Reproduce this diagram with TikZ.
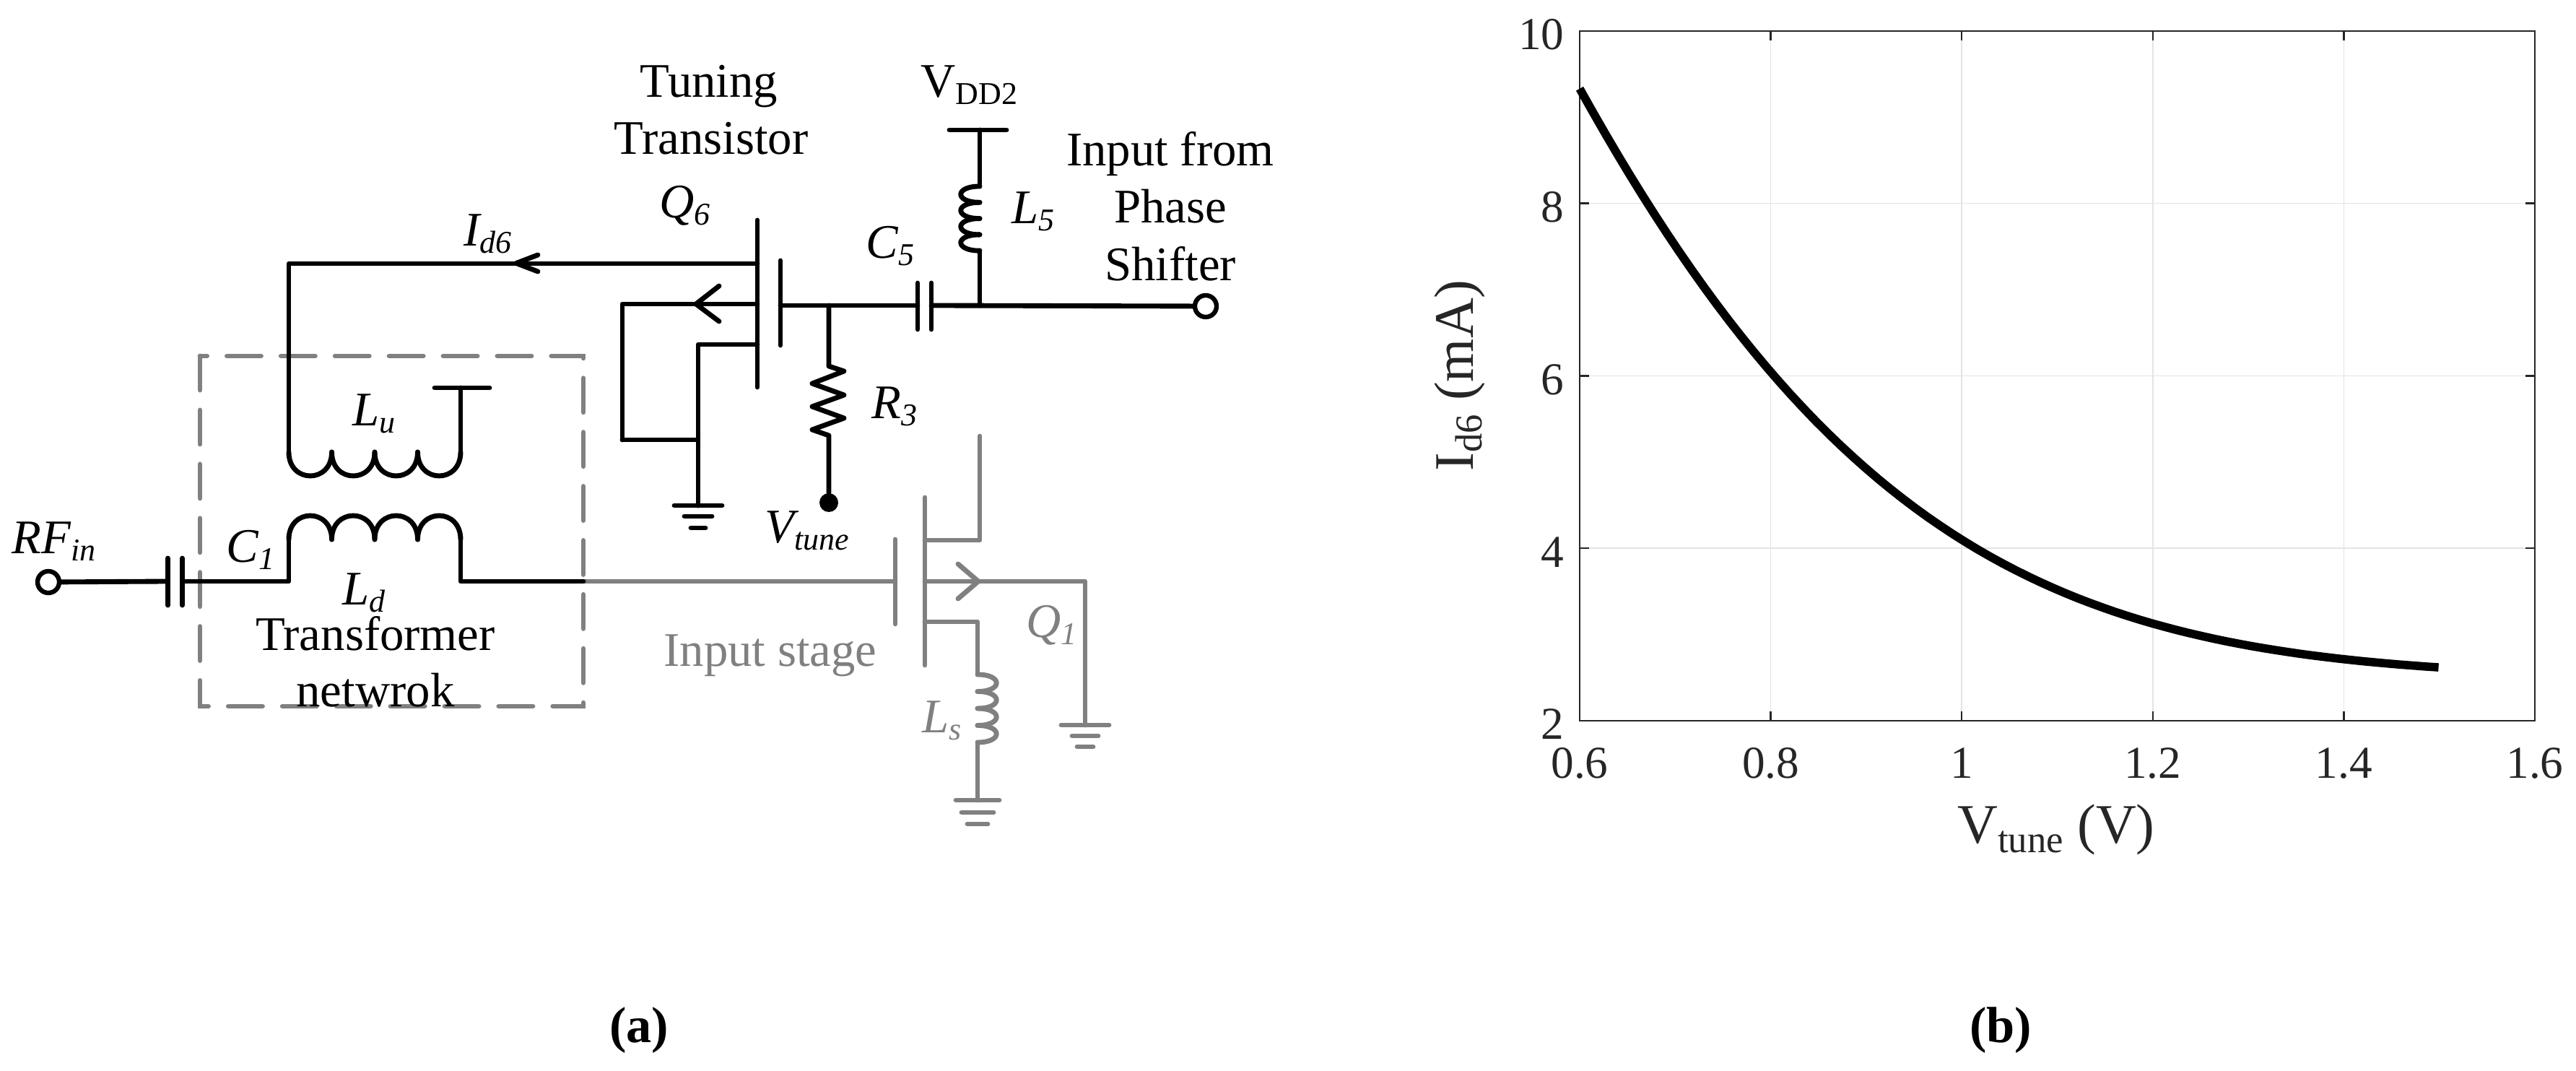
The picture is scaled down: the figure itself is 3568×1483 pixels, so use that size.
\documentclass[tikz,border=0pt]{standalone}
\usepackage{fontspec}
\setmainfont{Liberation Serif}
\usetikzlibrary{calc,arrows}
\definecolor{stagegray}{HTML}{808080}
\definecolor{axisdark}{HTML}{262626}
\definecolor{gridlight}{HTML}{E4E4E4}
\newcommand{\symb}[2]{\textit{#1\raisebox{-2.8pt}{\fontsize{12.5}{14}\selectfont #2}}}
\tikzset{
    >=stealth',
    wire/.style={draw, line width=1.95pt, line cap=round, line join=round},
    grayline/.style={wire, stagegray},
    boxline/.style={draw=stagegray, line width=1.95pt, line cap=round, dash pattern=on 13.4pt off 7.9pt},
    terminal/.style={circle, draw, fill=white, line width=1.8pt, minimum size=30*0.2845pt, inner sep=0pt},
    dotnode/.style={circle, fill, minimum size=26*0.2845pt, inner sep=0pt},
    lbl/.style={font={\fontsize{19}{22}\selectfont}, inner sep=0pt},
    tick/.style={axisdark, font={\fontsize{18}{20}\selectfont}, inner sep=0pt},
    axislabel/.style={axisdark, font={\fontsize{22}{26}\selectfont}, inner sep=0pt},
    axisline/.style={draw=axisdark, line width=0.7pt},
    gridline/.style={draw=gridlight, line width=0.45pt},
    curve/.style={draw=black, line width=3.3pt},
    caption/.style={font={\bfseries\fontsize{20}{24}\selectfont}, inner sep=0pt},
}
\begin{document}
\begin{tikzpicture}[x=0.01cm, y=-0.01cm]
\useasboundingbox (0,0) rectangle (3568,1483);

% junctions
\coordinate (c1-l) at (232.5,805);
\coordinate (c1-r) at (252.5,805);
\coordinate (ld-l) at (400,747);
\coordinate (ld-r) at (638,747);
\coordinate (lu-r) at (638,626);
\coordinate (lu-t) at (638,537);
\coordinate (q6-d) at (1049,365);
\coordinate (q6-b) at (1049,421);
\coordinate (q6-s) at (1049,477);
\coordinate (q6-g) at (1081,423);
\coordinate (q6-t) at (862,609);
\coordinate (gnd6) at (967,700);
\coordinate (c5-l) at (1271,423);
\coordinate (c5-r) at (1290,423);
\coordinate (r3-t) at (1148,507);
\coordinate (r3-b) at (1148,603);
\coordinate (l5-t) at (1357,258);
\coordinate (l5-b) at (1357,347);
\coordinate (vdd) at (1357,180);
\coordinate (box-r) at (808,805);
\coordinate (q1-g) at (1240,805);
\coordinate (q1-d) at (1281,748);
\coordinate (q1-b) at (1281,805);
\coordinate (q1-s) at (1281,861);
\coordinate (q1-up) at (1357,604);
\coordinate (gnd1) at (1503,1004);
\coordinate (ls-t) at (1354,934);
\coordinate (ls-b) at (1354,1028);
\coordinate (gnds) at (1354,1108);

\node [terminal] (rfin) at (67,806) {};
\node [terminal] (rfout) at (1670,424) {};
\node [dotnode] (vtune) at (1148,696) {};

% transformer box
\draw [boxline] (277,493) rectangle (808,978);

% input stage
\draw [grayline] (box-r) -- (q1-g);
\draw [grayline] (1240,747) -- (1240,864);
\draw [grayline] (1281,689) -- (1281,921);
\draw [grayline] (q1-d) -| (q1-up);
\draw [grayline] (q1-b) -| (gnd1);
\draw [grayline] (1327,781) -- (1355,805) -- (1327,829);
\draw [grayline] (q1-s) -| (ls-t);
\foreach \i in {0,...,3}
  \draw [grayline] (1354,934+\i*23.5) .. controls +(35,0) and +(35,0) .. (1354,957.5+\i*23.5);
\draw [grayline] (ls-b) -- (gnds);
\foreach \w/\y in {33/0,18/15,11/30}
  \draw [grayline] ($(gnd1)+(-\w,\y)$) -- ($(gnd1)+(\w,\y)$);
\foreach \w/\y in {30/0,22/17,14/33}
  \draw [grayline] ($(gnds)+(-\w,\y)$) -- ($(gnds)+(\w,\y)$);

% input side
\draw [wire] (rfin) -- (c1-l);
\draw [wire] (232.5,773) -- (232.5,838);
\draw [wire] (252.5,773) -- (252.5,838);
\draw [wire] (c1-r) -| (ld-l);
\foreach \i in {0,...,3}
  \draw [wire] (400+\i*59.5,747) .. controls +(0,-44) and +(0,-44) .. (459.5+\i*59.5,747);
\draw [wire] (ld-r) |- (box-r);
\foreach \i in {0,...,3}
  \draw [wire] (400+\i*59.5,626) .. controls +(0,44) and +(0,44) .. (459.5+\i*59.5,626);
\draw [wire] (lu-r) -- (lu-t);
\draw [wire] (602,537) -- (678,537);
\draw [wire] (400,626) |- (q6-d);
\draw [wire] (745,353) -- (715,364.5) -- (745,376);

% tuning transistor
\draw [wire] (1049,305) -- (1049,536);
\draw [wire] (1081,361) -- (1081,478);
\draw [wire] (q6-b) -| (q6-t);
\draw [wire] (996,396) -- (964,421) -- (996,445);
\draw [wire] (q6-t) -| (gnd6);
\draw [wire] (q6-s) -| (gnd6);
\foreach \w/\y in {33/0,19/15,10/31}
  \draw [wire] ($(gnd6)+(-\w,\y)$) -- ($(gnd6)+(\w,\y)$);
\draw [wire] (q6-g) -- (c5-l);
\draw [wire] (1271,392) -- (1271,456);
\draw [wire] (1290,392) -- (1290,456);
\draw [wire] (c5-r) -- (rfout);
\draw [wire] (r3-t |- q6-g) -- (r3-t)
  -- (1169,514) -- (1125,531) -- (1169,547) -- (1125,563) -- (1169,579) -- (1125,595) -- (r3-b) -- (vtune);
\draw [wire] (vdd) -- (l5-t);
\draw [wire] (1315,180) -- (1394,180);
\foreach \i in {0,...,3}
  \draw [wire] (1357,258+\i*22.3) .. controls +(-35,0) and +(-35,0) .. (1357,280.3+\i*22.3);
\draw [wire] (l5-b) -- (c5-r -| l5-b);

% labels
\node [lbl, anchor=base west] (l-rf) at (16,767) {\symb{RF}{in}};
\node [lbl, anchor=base west] (l-c1) at (313,779) {\symb{C}{1}};
\node [lbl, anchor=base west] (l-lu) at (488,590) {\symb{L}{u}};
\node [lbl, anchor=base west] (l-ld) at (474,838) {\symb{L}{d}};
\node [lbl, anchor=base] (l-tf) at (520,901) {Transformer};
\node [lbl, anchor=base] (l-nw) at (520,979) {netwrok};
\node [lbl, anchor=base] (l-tu) at (982,135) {Tuning};
\node [lbl, anchor=base] (l-tr) at (985,214) {Transistor};
\node [lbl, anchor=base west] (l-q6) at (913,302) {\symb{Q}{6}};
\node [lbl, anchor=base west] (l-id) at (642,341) {\symb{I}{d6}};
\node [lbl, anchor=base west] (l-vdd) at (1275,135) {V\raisebox{-2.8pt}{\fontsize{12.5}{14}\selectfont DD2}};
\node [lbl, anchor=base west] (l-l5) at (1401,310) {\symb{L}{5}};
\node [lbl, anchor=base west] (l-c5) at (1199,358) {\symb{C}{5}};
\node [lbl, anchor=base west] (l-r3) at (1207,580) {\symb{R}{3}};
\node [lbl, anchor=base west] (l-vt) at (1059,752) {\symb{V}{tune}};
\node [lbl, anchor=base] (l-in) at (1621,230) {Input from};
\node [lbl, anchor=base] (l-ph) at (1621,309) {Phase};
\node [lbl, anchor=base] (l-sh) at (1621,389) {Shifter};
\node [lbl, stagegray, anchor=base] (l-is) at (1067,923) {Input stage};
\node [lbl, stagegray, anchor=base west] (l-q1) at (1421,883) {\symb{Q}{1}};
\node [lbl, stagegray, anchor=base west] (l-ls) at (1277,1015) {\symb{L}{s}};

% plot
\foreach \x in {0.8,1.0,1.2,1.4} {
  \draw [gridline] ({2188+(\x-0.6)*1323},43) -- ({2188+(\x-0.6)*1323},998);
  \draw [axisline] ({2188+(\x-0.6)*1323},43) -- ++(0,13);
  \draw [axisline] ({2188+(\x-0.6)*1323},998) -- ++(0,-13);
}
\foreach \y in {4,6,8} {
  \draw [gridline] (2188,{998-(\y-2)*119.4}) -- (3511,{998-(\y-2)*119.4});
  \draw [axisline] (2188,{998-(\y-2)*119.4}) -- ++(13,0);
  \draw [axisline] (3511,{998-(\y-2)*119.4}) -- ++(-13,0);
}
\draw [axisline] (2188,43) rectangle (3511,998);
\foreach \l [count=\i from 0] in {0.6,0.8,1,1.2,1.4,1.6}
  \node [tick, anchor=base] (xt-\i) at (2188+\i*264.6,1078) {\l};
\foreach \l [count=\i from 0] in {2,4,6,8,10}
  \node [tick, anchor=east] (yt-\i) at (2167,1003-\i*238.8) {\l};
\draw [curve] plot [domain=0:0.9, samples=70]
  ({2188+\x*1323},{998-(0.5+6.83*exp(-(2.93*\x+1.75*\x*\x)))*119.4});
\node [axislabel, rotate=90, anchor=base] (ylab) at (2040,520) {I\raisebox{-3.5pt}{\fontsize{15}{17}\selectfont d6} (mA)};
\node [axislabel, anchor=base] (xlab) at (2848,1168) {V\raisebox{-3.5pt}{\fontsize{15}{17}\selectfont tune} (V)};

% captions
\node [caption] (cap-a) at (885,1427) {(a)};
\node [caption] (cap-b) at (2771,1427) {(b)};

\end{tikzpicture}
\end{document}
